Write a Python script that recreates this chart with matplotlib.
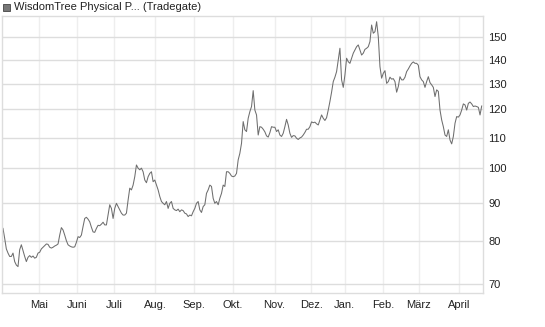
import matplotlib
matplotlib.use("Agg")
from matplotlib import pyplot as plt
from matplotlib.ticker import FixedLocator, FixedFormatter, NullLocator
import numpy as np

# price series (one point per step)
prices = [
    83.1, 80.6, 78.0, 77.0, 76.2, 76.2, 77.0, 75.0, 74.2, 73.85,
    77.8, 79.0, 77.6, 76.2, 75.0, 76.0, 76.4, 76.0, 76.3, 75.8,
    76.0, 77.0, 77.2, 78.0, 78.4, 78.8, 79.2, 79.1, 78.4, 78.2,
    78.4, 78.7, 78.9, 79.2, 81.4, 83.3, 82.7, 81.4, 80.0, 79.0,
    78.7, 78.5, 78.4, 78.5, 79.6, 81.0, 80.8, 81.4, 83.6, 85.7,
    86.0, 85.5, 84.8, 83.4, 82.2, 82.1, 83.1, 83.9, 83.8, 84.2,
    84.7, 84.0, 84.0, 86.6, 89.4, 88.4, 85.7, 88.4, 89.8, 88.9,
    88.0, 87.1, 86.6, 86.6, 87.1, 90.7, 94.1, 93.6, 95.0, 97.5,
    101.1, 100.1, 99.6, 100.1, 99.0, 96.5, 95.7, 97.5, 98.5, 99.0,
    96.0, 96.5, 95.0, 93.6, 91.7, 90.3, 89.8, 89.4, 90.3, 88.4,
    89.8, 90.3, 88.4, 88.0, 87.8, 88.2, 87.5, 88.0, 87.8, 87.1,
    86.9, 86.2, 86.6, 86.4, 87.5, 88.4, 89.8, 90.3, 88.0, 87.3,
    88.9, 89.4, 92.6, 93.6, 95.0, 94.6, 91.2, 89.8, 90.3, 89.4,
    91.2, 92.6, 95.0, 94.6, 99.0, 99.0, 98.5, 97.7, 97.5, 97.7,
    98.5, 102.7, 104.8, 108.1, 115.6, 112.7, 112.1, 116.8, 119.2, 121.1,
    127.2, 119.8, 118.0, 110.9, 113.8, 113.6, 112.9, 112.0, 110.6, 110.2,
    111.7, 113.8, 113.6, 113.6, 112.1, 112.7, 110.9, 110.4, 111.5, 113.8,
    116.4, 114.4, 111.5, 110.1, 110.7, 110.6, 109.8, 109.4, 109.9, 110.2,
    110.9, 111.8, 112.9, 112.9, 113.8, 115.5, 115.2, 115.4, 114.8, 114.4,
    116.2, 118.0, 116.8, 116.0, 117.0, 119.8, 123.0, 126.6, 130.8, 132.6,
    134.9, 139.8, 145.0, 131.5, 128.5, 133.5, 140.6, 139.1, 138.4, 140.6,
    142.8, 144.2, 145.7, 146.5, 144.2, 142.0, 142.8, 144.5, 145.0, 145.7,
    148.0, 155.8, 151.9, 152.6, 157.4, 150.3, 137.0, 132.2, 134.2, 135.3,
    130.1, 130.8, 132.6, 131.8, 132.0, 130.8, 126.6, 128.8, 132.8, 131.5,
    131.5, 132.6, 134.9, 136.0, 137.3, 138.4, 139.0, 138.4, 138.4, 137.6,
    132.8, 131.5, 130.8, 128.5, 130.8, 132.8, 130.4, 129.5, 128.5, 124.9,
    127.5, 126.9, 119.8, 116.2, 113.8, 110.9, 110.4, 112.7, 109.2, 107.9,
    110.4, 115.0, 117.4, 117.2, 118.0, 119.8, 122.1, 121.7, 119.8, 122.3,
    122.8, 122.1, 121.1, 121.3, 121.1, 120.8, 118.0, 121.3,
]

months = ["Mai", "Juni", "Juli", "Aug.", "Sep.", "Okt.", "Nov.", "Dez.",
          "Jan.", "Feb.", "März", "April"]
month_pos = [21.4, 44.4, 66.8, 91.4, 114.6, 138, 162.8, 184.8, 204.8, 228, 249.2, 273.6]
yticks = [70, 80, 90, 100, 110, 120, 130, 140, 150]

plt.rcParams['font.family'] = ['Liberation Sans', 'DejaVu Sans']

fig = plt.figure(figsize=(5.45, 3.27), dpi=100)
ax = fig.add_axes([2 / 545, 1 - 293.3 / 327, 480.7 / 545, 277.3 / 327])

x = np.arange(len(prices))
ax.plot(x, prices, color='#6e6e6e', linewidth=0.75)

ax.set_yscale('log')
ax.set_ylim(68.0, 160.2)
ax.set_xlim(-0.6, 287.6)
ax.yaxis.set_major_locator(FixedLocator(yticks))
ax.yaxis.set_major_formatter(FixedFormatter([str(t) for t in yticks]))
ax.yaxis.set_minor_locator(NullLocator())
ax.yaxis.tick_right()
ax.set_xticks(month_pos)
ax.set_xticklabels(months)

ax.grid(axis='y', color='#dddddd', linewidth=1)
ax.grid(axis='x', color='#eeeeee', linewidth=1)
ax.set_axisbelow(True)
ax.tick_params(length=0, labelsize=8, colors='#222222', pad=4)
ax.tick_params(axis='x', pad=5)
for s in ax.spines.values():
    s.set_color('#dddddd')
    s.set_linewidth(1)

fig.patches.append(plt.Rectangle((3 / 545, 1 - 11 / 327), 7 / 545, 7 / 327,
                                 transform=fig.transFigure, facecolor='#777777',
                                 edgecolor='#444444', linewidth=0.6))
fig.text(14 / 545, 1 - 7.5 / 327, "WisdomTree Physical P... (Tradegate)",
         fontsize=8, color='#222222', va='center', ha='left')

fig.savefig("out.png", dpi=100)
